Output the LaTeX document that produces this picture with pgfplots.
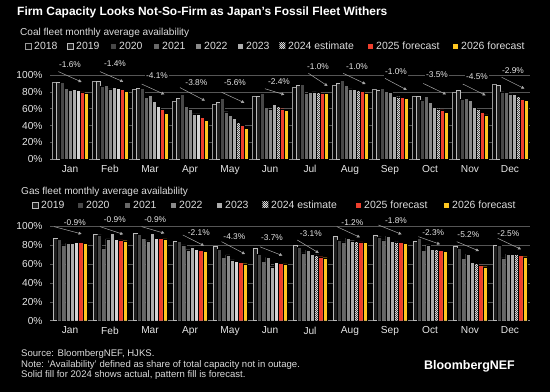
\documentclass[border=0pt]{standalone}
\usepackage{pgfplots}
\pgfplotsset{compat=1.18}
\usepackage{pgfplotstable}
\usepackage{fontspec}
\setmainfont{Liberation Sans}
\usetikzlibrary{patterns,patterns.meta,arrows.meta,positioning}

\definecolor{txt}{HTML}{E6E6E6}
\definecolor{subt}{HTML}{DCDCDC}
\definecolor{gridc}{HTML}{555555}
\definecolor{basec}{HTML}{8C8C8C}
\definecolor{anncol}{HTML}{A8A8A8}
\definecolor{c18}{HTML}{080808}
\definecolor{c18e}{HTML}{9A9A9A}
\definecolor{c19}{HTML}{1E1E1E}
\definecolor{c19e}{HTML}{BBBBBB}
\definecolor{c20}{HTML}{474747}
\definecolor{c21}{HTML}{686868}
\definecolor{c22}{HTML}{8A8A8A}
\definecolor{c23}{HTML}{ADADAD}
\definecolor{c24}{HTML}{D4D4D4}
\definecolor{c24b}{HTML}{3A3A3A}
\definecolor{c24p}{HTML}{DADADA}
\definecolor{c25}{HTML}{EE3F2D}
\definecolor{c26}{HTML}{FFC720}

\tikzdeclarepattern{
  name=finechecker,
  type=uncolored,
  bounding box={(0pt,0pt) and (2pt,2pt)},
  tile size={(2pt,2pt)},
  code={
    \fill (0pt,0pt) rectangle (1pt,1pt);
    \fill (1pt,1pt) rectangle (2pt,2pt);
  }
}

\tikzset{
  s18/.style={fill=c18, draw=c18e},
  s19/.style={fill=c19, draw=c19e},
  s20/.style={fill=c20, draw=black},
  s21/.style={fill=c21, draw=black},
  s22/.style={fill=c22, draw=black},
  s23/.style={fill=c23, draw=black},
  s24/.style={fill=c24, draw=black},
  s24p/.style={fill=c24b, draw=black, postaction={pattern=finechecker, pattern color=c24p}},
  s25/.style={fill=c25, draw=black},
  s26/.style={fill=c26, draw=black},
  annarrow/.style={draw=anncol, line width=0.5bp, -{Triangle[width=3bp,length=3bp]}},
  annlab/.style={fill=black, text=txt, inner sep=1.2bp, font=\fontsize{8.4}{10}\selectfont},
  lgtxt/.style={inner sep=0pt, text=subt, font=\fontsize{10.5}{12}\selectfont, anchor=west},
  sw/.style={minimum width=6bp, minimum height=6bp, inner sep=0pt, line width=0.5bp, anchor=west},
}

\pgfplotsset{
  myaxis/.style={
    scale only axis, width=480bp,
    xmin=-0.5, xmax=11.5, ymin=0,
    enlargelimits=false,
    axis lines*=left,
    axis line style={-},
    x axis line style={draw=basec, line width=0.6bp},
    y axis line style={draw=none},
    tick style={draw=none},
    ytick={0,20,...,100},
    yticklabel={\pgfmathprintnumber{\tick}\%},
    xtick={0,...,11},
    xticklabels={Jan,Feb,Mar,Apr,May,Jun,Jul,Aug,Sep,Oct,Nov,Dec},
    ymajorgrids, major grid style={draw=gridc, line width=0.5bp},
    ticklabel style={font=\fontsize{10.2}{12}\selectfont, text=txt},
    yticklabel style={xshift=-4bp},
    xticklabel style={yshift=-2.5bp},
    clip=false,
    /pgf/number format/assume math mode=true,
  },
  cbar/.style={ybar, bar width=0.1, bar shift=#1, line width=0.3bp},
  gbar/.style={ybar, bar width=0.107, bar shift=#1, line width=0.3bp},
}

% Coal fleet availability (%), 2024 split into actual (a) and forecast (f)
\pgfplotstableread{
m y18 y19 y20 y21 y22 y23 y24a y24f y25 y26
0 91 91 91.3 84.5 82 83 81.5 nan 80 78.7
1 92.5 92.5 87 88 83.5 85 84.5 nan 83 81
2 83 84.5 84.5 73.5 76 68.5 63 nan 59.5 54.5
3 69 72 77.5 63 59.5 54 54 nan 50 46
4 65.5 67.5 72.5 56.5 52.5 48.5 nan 43.5 40.5 36.5
5 75 75 78.7 61.3 60 65 nan 63 60 57.7
6 85 88 89.3 78 79.4 80 nan 79.4 78.7 78
7 88 90 93.7 88 83.4 83 nan 82 80.6 78.7
8 83.4 82.2 84.2 81 79.4 75 nan 74.3 73.5 72
9 75 75 70.4 75 67.2 62 nan 60 58.5 56
10 79.8 81.8 71 72.3 70 61.7 nan 59.3 56 52.6
11 89 88 80.2 79.4 77.5 76.7 nan 75 71.5 69.6
}\coal

% Gas fleet availability (%)
\pgfplotstableread{
m y19 y20 y21 y22 y23 y24a y24f y25 y26
0 87 86 80 81.7 81.7 82.4 nan 82.4 81.7
1 91.2 90.8 76.8 86.3 91.9 86 nan 85.2 84.5
2 92.3 91.2 87 84.2 92.3 87 nan 87 86.3
3 84 84 80 75 78 75.5 nan 74 73
4 78.9 75.4 66.9 69.4 64.1 62.7 nan 61.3 60.2
5 76.8 70.4 62.7 66.9 57 61.6 nan 60.9 59.9
6 79.9 77.5 71.5 74.6 70 nan 69.4 67.6 66.5
7 89.4 85.2 83.1 87.3 84.5 nan 83.8 83.1 82.4
8 90.5 88.7 85.2 89.4 83.5 nan 83.1 82.4 81.7
9 84.2 87 74.6 80 75.4 nan 75.4 74 72.9
10 78.5 76.8 65.8 70.4 61.6 nan 60.6 58.8 57
11 79.9 79.9 66.2 70.4 70.4 nan 70.4 69 67.6
}\gas

\begin{document}
\begin{tikzpicture}
\useasboundingbox (0,0) rectangle (550bp,392bp);
\fill[black] (0,0) rectangle (550bp,392bp);

% Titles
\node[anchor=base west, inner sep=0, text=white, font=\fontsize{12}{14}\selectfont\bfseries] at (17bp,376.8bp) {Firm Capacity Looks Not-So-Firm as Japan's Fossil Fleet Withers};
\node[anchor=base west, inner sep=0, text=subt, font=\fontsize{10.1}{12}\selectfont] at (20bp,356.5bp) {Coal fleet monthly average availability};
\node[anchor=base west, inner sep=0, text=subt, font=\fontsize{10.1}{12}\selectfont] at (21bp,197.5bp) {Gas fleet monthly average availability};

% Coal legend
\node[sw, s18] (a1) at (25bp,346bp) {};
\node[lgtxt, right=2.5bp of a1] {2018};
\node[sw, s19] (a2) at (67bp,346bp) {};
\node[lgtxt, right=2.5bp of a2] {2019};
\node[sw, s20] (a3) at (110bp,346bp) {};
\node[lgtxt, right=2.5bp of a3] {2020};
\node[sw, s21] (a4) at (153bp,346bp) {};
\node[lgtxt, right=2.5bp of a4] {2021};
\node[sw, s22] (a5) at (195bp,346bp) {};
\node[lgtxt, right=2.5bp of a5] {2022};
\node[sw, s23] (a6) at (237bp,346bp) {};
\node[lgtxt, right=2.5bp of a6] {2023};
\node[sw, s24p] (a7) at (279bp,346bp) {};
\node[lgtxt, right=2.5bp of a7] {2024 estimate};
\node[sw, s25] (a8) at (367bp,346bp) {};
\node[lgtxt, right=2.5bp of a8] {2025 forecast};
\node[sw, s26] (a9) at (452bp,346bp) {};
\node[lgtxt, right=2.5bp of a9] {2026 forecast};

% Gas legend
\node[sw, s19] (g2) at (32bp,187bp) {};
\node[lgtxt, right=2.5bp of g2] {2019};
\node[sw, s20] (g3) at (77bp,187bp) {};
\node[lgtxt, right=2.5bp of g3] {2020};
\node[sw, s21] (g4) at (124bp,187bp) {};
\node[lgtxt, right=2.5bp of g4] {2021};
\node[sw, s22] (g5) at (170bp,187bp) {};
\node[lgtxt, right=2.5bp of g5] {2022};
\node[sw, s23] (g6) at (216bp,187bp) {};
\node[lgtxt, right=2.5bp of g6] {2023};
\node[sw, s24p] (g7) at (262bp,187bp) {};
\node[lgtxt, right=2.5bp of g7] {2024 estimate};
\node[sw, s25] (g8) at (355bp,187bp) {};
\node[lgtxt, right=2.5bp of g8] {2025 forecast};
\node[sw, s26] (g9) at (443bp,187bp) {};
\node[lgtxt, right=2.5bp of g9] {2026 forecast};

% ---------------- Coal axis ----------------
\begin{axis}[myaxis, at={(50bp,232.7bp)}, anchor=south west, height=97.8bp, ymax=116]
\addplot[cbar=-0.4, s18, line width=0.5bp] table[x=m,y=y18]{\coal};
\addplot[cbar=-0.3, s19, line width=0.5bp] table[x=m,y=y19]{\coal};
\addplot[cbar=-0.2, s20] table[x=m,y=y20]{\coal};
\addplot[cbar=-0.1, s21] table[x=m,y=y21]{\coal};
\addplot[cbar=0, s22] table[x=m,y=y22]{\coal};
\addplot[cbar=0.1, s23] table[x=m,y=y23]{\coal};
\addplot[cbar=0.2, s24] table[x=m,y=y24a]{\coal};
\addplot[cbar=0.2, s24p] table[x=m,y=y24f]{\coal};
\addplot[cbar=0.3, s25] table[x=m,y=y25]{\coal};
\addplot[cbar=0.4, s26] table[x=m,y=y26]{\coal};

\draw[annarrow] (axis cs:-0.29,104) -- (axis cs:0.29,91.7);
\node[annlab] at (axis cs:0,112) {-1.6\%};
\draw[annarrow] (axis cs:0.75,104) -- (axis cs:1.33,92);
\node[annlab] at (axis cs:1.125,113) {-1.4\%};
\draw[annarrow] (axis cs:1.79,89.3) -- (axis cs:2.36,77);
\node[annlab] at (axis cs:2.175,99) {-4.1\%};
\draw[annarrow] (axis cs:2.75,85) -- (axis cs:3.375,69.5);
\node[annlab] at (axis cs:3.16,90.5) {-3.8\%};
\draw[annarrow] (axis cs:3.79,79.5) -- (axis cs:4.36,67);
\node[annlab] at (axis cs:4.125,90.5) {-5.6\%};
\draw[annarrow] (axis cs:4.875,83.7) -- (axis cs:5.36,76.6);
\node[annlab] at (axis cs:5.225,92) {-2.4\%};
\draw[annarrow] (axis cs:5.96,102) -- (axis cs:6.44,87);
\node[annlab] at (axis cs:6.2,109.5) {-1.0\%};
\draw[annarrow] (axis cs:6.83,102) -- (axis cs:7.39,89.3);
\node[annlab] at (axis cs:7.175,109.5) {-1.0\%};
\draw[annarrow] (axis cs:7.875,96) -- (axis cs:8.42,82.2);
\node[annlab] at (axis cs:8.15,103.4) {-1.0\%};
\draw[annarrow] (axis cs:8.83,90) -- (axis cs:9.4,77);
\node[annlab] at (axis cs:9.175,100) {-3.5\%};
\draw[annarrow] (axis cs:9.82,89.3) -- (axis cs:10.39,75.9);
\node[annlab] at (axis cs:10.175,97.6) {-4.5\%};
\draw[annarrow] (axis cs:10.79,97.3) -- (axis cs:11.36,83.8);
\node[annlab] at (axis cs:11.075,104.7) {-2.9\%};
\end{axis}

% ---------------- Gas axis ----------------
\begin{axis}[myaxis, at={(50bp,71.3bp)}, anchor=south west, height=104.2bp, ymax=110]
\addplot[gbar=-0.3745, s19, line width=0.5bp] table[x=m,y=y19]{\gas};
\addplot[gbar=-0.2675, s20] table[x=m,y=y20]{\gas};
\addplot[gbar=-0.1605, s21] table[x=m,y=y21]{\gas};
\addplot[gbar=-0.0535, s22] table[x=m,y=y22]{\gas};
\addplot[gbar=0.0535, s23] table[x=m,y=y23]{\gas};
\addplot[gbar=0.1605, s24] table[x=m,y=y24a]{\gas};
\addplot[gbar=0.1605, s24p] table[x=m,y=y24f]{\gas};
\addplot[gbar=0.2675, s25] table[x=m,y=y25]{\gas};
\addplot[gbar=0.3745, s26] table[x=m,y=y26]{\gas};

\draw[annarrow] (axis cs:-0.4,99.3) -- (axis cs:0.29,91.6);
\node[annlab] at (axis cs:0.12,104) {-0.9\%};
\draw[annarrow] (axis cs:0.75,99.3) -- (axis cs:1.33,91.2);
\node[annlab] at (axis cs:1.12,106.3) {-0.9\%};
\draw[annarrow] (axis cs:1.79,99.3) -- (axis cs:2.36,92.3);
\node[annlab] at (axis cs:2.13,106.3) {-0.9\%};
\draw[annarrow] (axis cs:2.82,90.5) -- (axis cs:3.35,79.2);
\node[annlab] at (axis cs:3.22,92.6) {-2.1\%};
\draw[annarrow] (axis cs:3.79,83.4) -- (axis cs:4.375,70.4);
\node[annlab] at (axis cs:4.11,88.4) {-4.3\%};
\draw[annarrow] (axis cs:4.75,78) -- (axis cs:5.31,68.7);
\node[annlab] at (axis cs:5.05,87.3) {-3.7\%};
\draw[annarrow] (axis cs:5.68,85.2) -- (axis cs:6.22,71.5);
\node[annlab] at (axis cs:6.02,91.5) {-3.1\%};
\draw[annarrow] (axis cs:6.67,99.3) -- (axis cs:7.25,88);
\node[annlab] at (axis cs:7.06,103.9) {-1.2\%};
\draw[annarrow] (axis cs:7.71,101) -- (axis cs:8.29,91.2);
\node[annlab] at (axis cs:8.15,105.3) {-1.8\%};
\draw[annarrow] (axis cs:8.71,88.7) -- (axis cs:9.25,80.7);
\node[annlab] at (axis cs:9.08,93) {-2.3\%};
\draw[annarrow] (axis cs:9.67,83.4) -- (axis cs:10.225,73.6);
\node[annlab] at (axis cs:9.96,90.5) {-5.2\%};
\draw[annarrow] (axis cs:10.69,87) -- (axis cs:11.275,75.4);
\node[annlab] at (axis cs:10.96,92.3) {-2.5\%};
\end{axis}

% Footer
\node[anchor=base west, inner sep=0, text=subt, font=\fontsize{9.6}{11}\selectfont] at (21bp,36bp) {Source: BloombergNEF, HJKS.};
\node[anchor=base west, inner sep=0, text=subt, font=\fontsize{9.6}{11}\selectfont] at (21bp,25bp) {Note: `Availability' defined as share of total capacity not in outage.};
\node[anchor=base west, inner sep=0, text=subt, font=\fontsize{9.6}{11}\selectfont] at (21bp,14.3bp) {Solid fill for 2024 shows actual, pattern fill is forecast.};
\node[anchor=base east, inner sep=0, text=white, font=\fontsize{12.5}{14}\selectfont\bfseries] at (515bp,22.5bp) {BloombergNEF};
\end{tikzpicture}
\end{document}
